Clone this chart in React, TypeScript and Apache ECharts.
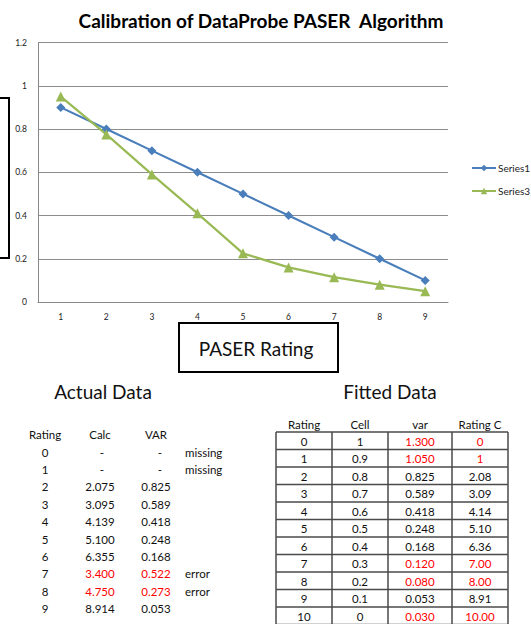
import React, { useEffect, useRef } from "react";
import * as echarts from "echarts";

const categories = ["1", "2", "3", "4", "5", "6", "7", "8", "9"];
const series1 = [0.9, 0.8, 0.7, 0.6, 0.5, 0.4, 0.3, 0.2, 0.1];
const series3 = [0.95, 0.775, 0.59, 0.41, 0.225, 0.16, 0.115, 0.08, 0.05];

const actualHeaders = ["Rating", "Calc", "VAR"];
const actualRating = ["0", "1", "2", "3", "4", "5", "6", "7", "8", "9"];
const actualCalc = ["-", "-", "2.075", "3.095", "4.139", "5.100", "6.355", "3.400", "4.750", "8.914"];
const actualVar = ["-", "-", "0.825", "0.589", "0.418", "0.248", "0.168", "0.522", "0.273", "0.053"];
const actualNote = ["missing", "missing", "", "", "", "", "", "error", "error", ""];
const actualRed = [false, false, false, false, false, false, false, true, true, false];

const fittedHeaders = ["Rating", "Cell", "var", "Rating C"];
const fittedRating = ["0", "1", "2", "3", "4", "5", "6", "7", "8", "9", "10"];
const fittedCell = ["1", "0.9", "0.8", "0.7", "0.6", "0.5", "0.4", "0.3", "0.2", "0.1", "0"];
const fittedVar = ["1.300", "1.050", "0.825", "0.589", "0.418", "0.248", "0.168", "0.120", "0.080", "0.053", "0.030"];
const fittedRatingC = ["0", "1", "2.08", "3.09", "4.14", "5.10", "6.36", "7.00", "8.00", "8.91", "10.00"];
const fittedRed = [true, true, false, false, false, false, false, true, true, false, true];

const FONT = "Lato, 'Open Sans', sans-serif";
const RED = "#ff0000";
const TXT = "#111";
const TFS = 11.5;

function buildGraphics() {
  const g: any[] = [];
  const txt = (x: number, y: number, text: string, opts: any = {}) => ({
    type: "text",
    x,
    y,
    style: {
      text,
      fontFamily: FONT,
      fontSize: opts.fontSize ?? TFS,
      fontWeight: opts.fontWeight ?? "normal",
      fill: opts.fill ?? TXT,
      textAlign: opts.align ?? "center",
      textVerticalAlign: "middle",
    },
  });

  // clipped axis-title box on the left
  g.push({ type: "rect", shape: { x: -20, y: 98, width: 29, height: 160 }, style: { fill: "none", stroke: "#000", lineWidth: 2 } });
  // PASER Rating box
  g.push({ type: "rect", shape: { x: 179, y: 323, width: 159, height: 49 }, style: { fill: "#fff", stroke: "#000", lineWidth: 2 } });
  g.push(txt(256, 348, "PASER Rating", { fontSize: 19 }));

  g.push(txt(103, 391, "Actual Data", { fontSize: 19 }));
  g.push(txt(390, 391, "Fitted Data", { fontSize: 19 }));

  // Actual table (no borders)
  const aCols = [45, 100, 156];
  actualHeaders.forEach((h, i) => g.push(txt(aCols[i], 434, h)));
  actualRating.forEach((r, i) => {
    const y = 452 + i * 17.4;
    const fill = actualRed[i] ? RED : TXT;
    g.push(txt(aCols[0], y, r));
    const c = actualCalc[i];
    const v = actualVar[i];
    g.push(txt(c === "-" ? 102 : aCols[1], y, c, { fill }));
    g.push(txt(v === "-" ? 160 : aCols[2], y, v, { fill }));
    if (actualNote[i]) g.push(txt(185, y, actualNote[i], { align: "left" }));
  });

  // Fitted table (bordered)
  const colX = [276, 332, 388, 452, 508];
  const top = 432;
  const rowH = 17.5;
  const nRows = fittedRating.length;
  const fCenters = [304, 360, 420, 480];
  fittedHeaders.forEach((h, i) => g.push(txt(fCenters[i], 424.5, h)));
  for (let i = 0; i <= nRows; i++) {
    const y = top + i * rowH;
    g.push({ type: "line", shape: { x1: colX[0], y1: y, x2: colX[4], y2: y }, style: { stroke: "#4a4a4a", lineWidth: 1.5 } });
  }
  colX.forEach((x) => {
    g.push({ type: "line", shape: { x1: x, y1: top, x2: x, y2: top + nRows * rowH }, style: { stroke: "#4a4a4a", lineWidth: 1.5 } });
  });
  fittedRating.forEach((r, i) => {
    const y = top + i * rowH + rowH / 2 + 0.5;
    const fill = fittedRed[i] ? RED : TXT;
    g.push(txt(fCenters[0], y, r));
    g.push(txt(fCenters[1], y, fittedCell[i]));
    g.push(txt(fCenters[2], y, fittedVar[i], { fill }));
    g.push(txt(fCenters[3], y, fittedRatingC[i], { fill }));
  });
  return g;
}

export default function App() {
  const ref = useRef<HTMLDivElement>(null);
  useEffect(() => {
    if (!ref.current) return;
    const chart = echarts.init(ref.current, null, { renderer: "svg" });
    chart.setOption({
      animation: false,
      backgroundColor: "#fff",
      title: {
        text: "Calibration of DataProbe PASER  Algorithm",
        left: 256,
        top: 6,
        textAlign: "center",
        textStyle: { fontFamily: FONT, fontSize: 19, fontWeight: "bold", color: "#000" },
      },
      grid: { left: 38, top: 42.5, right: 83, bottom: 322, containLabel: false },
      legend: {
        orient: "vertical",
        left: 466,
        top: 158,
        itemWidth: 24,
        itemHeight: 8,
        itemGap: 13,
        textStyle: { fontFamily: FONT, fontSize: 10, color: "#222", padding: [0, 0, 0, -3] },
        data: ["Series1", "Series3"],
      },
      xAxis: {
        type: "category",
        data: categories,
        boundaryGap: true,
        axisTick: { show: false },
        axisLine: { lineStyle: { color: "#888", width: 1 } },
        axisLabel: { margin: 10, fontFamily: FONT, fontSize: 8.5, color: "#222" },
      },
      yAxis: {
        type: "value",
        min: 0,
        max: 1.2,
        interval: 0.2,
        axisLine: { show: true, lineStyle: { color: "#888", width: 1 } },
        axisTick: { show: false },
        splitLine: { lineStyle: { color: "#8c8c8c", width: 1 } },
        axisLabel: { margin: 11, fontFamily: FONT, fontSize: 8.5, color: "#222" },
      },
      series: [
        {
          name: "Series1",
          type: "line",
          data: series1,
          symbol: "diamond",
          symbolSize: 9,
          lineStyle: { color: "#4a7ebb", width: 2.2 },
          itemStyle: { color: "#4a7ebb" },
        },
        {
          name: "Series3",
          type: "line",
          data: series3,
          symbol: "triangle",
          symbolSize: 10,
          lineStyle: { color: "#98b954", width: 2.2 },
          itemStyle: { color: "#98b954" },
        },
      ],
      graphic: buildGraphics(),
    });
    return () => chart.dispose();
  }, []);
  return <div ref={ref} style={{ position: "absolute", left: 0, top: 0, width: 531, height: 624 }} />;
}
